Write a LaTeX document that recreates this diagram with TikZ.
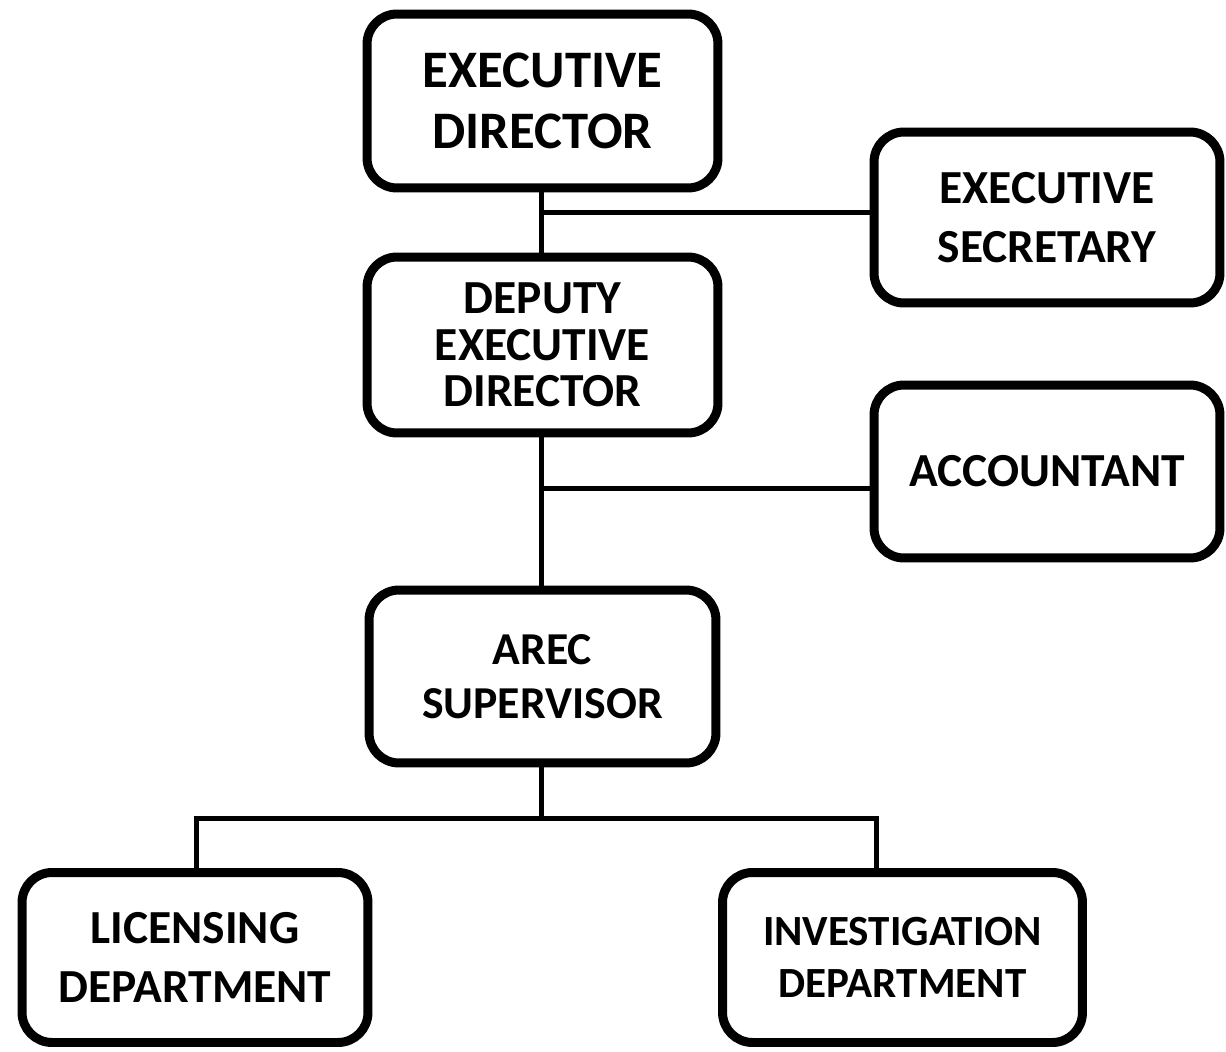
\documentclass[tikz,border=0pt]{standalone}
\usepackage{fontspec}
\setmainfont{Carlito}
\usetikzlibrary{calc}

\begin{document}
\begin{tikzpicture}[x=0.02cm,y=-0.02cm,
	box/.style={draw,line width=0.18cm,rounded corners=0.6cm,align=center,inner sep=0pt,
		minimum width=7.02cm,minimum height=3.46cm,font=\bfseries\fontsize{27}{34}\selectfont},
	link/.style={line width=0.1cm}]
						\useasboundingbox (0,0) rectangle (1226,1051);
						% boxes
						\node[box,font=\bfseries\fontsize{30}{35}\selectfont,minimum height=3.48cm] (ed) at (542.5,101) {EXECUTIVE\\DIRECTOR};
						\node[box,minimum width=6.92cm,minimum height=3.42cm] (es) at (1047,217.5) {EXECUTIVE\\SECRETARY};
						\node[box,font=\bfseries\fontsize{27}{26.5}\selectfont,minimum height=3.52cm] (ded) at (542.5,345) {DEPUTY\\EXECUTIVE\\DIRECTOR};
						\node[box,minimum width=6.92cm] (acc) at (1047,471.5) {ACCOUNTANT};
						\node[box,font=\bfseries\fontsize{26}{31}\selectfont,minimum width=6.94cm] (arec) at (542.5,676.5) {AREC\\SUPERVISOR};
						\node[box,minimum width=6.92cm,minimum height=3.4cm] (lic) at (195,957.5) {LICENSING\\DEPARTMENT};
						\node[box,font=\bfseries\fontsize{24.5}{30}\selectfont,minimum width=7.2cm,minimum height=3.4cm] (inv) at (902.5,957.5) {INVESTIGATION\\DEPARTMENT};
						% junctions
						\coordinate (J1) at (541,212);
						\coordinate (J2) at (541,488);
						\coordinate (J3) at (541,818);
						\coordinate (L) at (196,818);
						\coordinate (I) at (876,818);
						\draw[link] (ed.south -| J1) -- (ded.north -| J1);
						\draw[link] (J1) -- (J1 -| es.west);
						\draw[link] (ded.south -| J2) -- (arec.north -| J2);
						\draw[link] (J2) -- (J2 -| acc.west);
						\draw[link] (arec.south -| J3) -- (J3);
						\draw[link] (L |- lic.north) -- (L) -- (I) -- (I |- inv.north);
					\end{tikzpicture}
\end{document}
